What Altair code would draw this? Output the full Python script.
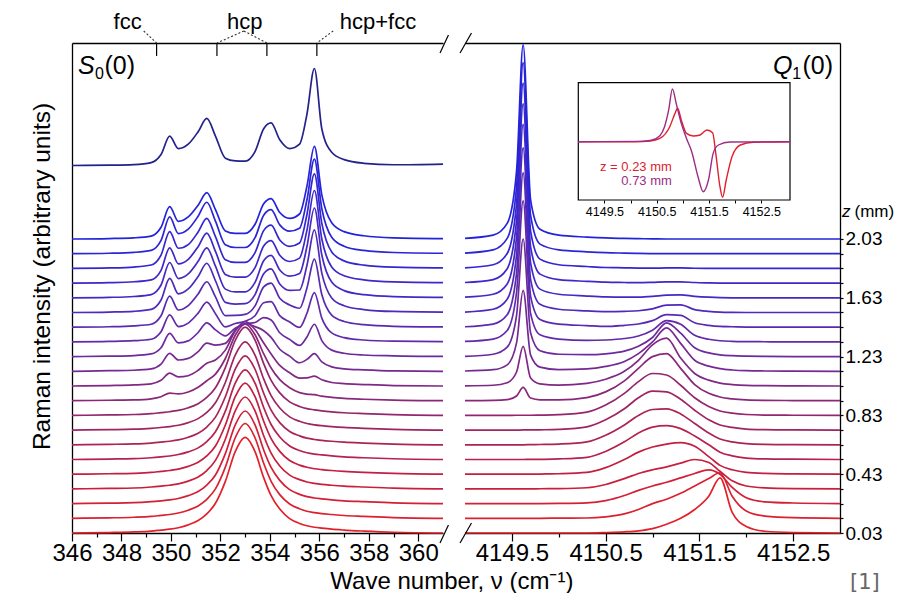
import json
import altair as alt
import pandas as pd

FONT = "Liberation Sans"

# ---------------- data ----------------
Z_LABELS = ["0.03", "0.13", "0.23", "0.33", "0.43", "0.53", "0.63", "0.73", "0.83", "0.93",
            "1.03", "1.13", "1.23", "1.33", "1.43", "1.53", "1.63", "1.73", "1.83", "1.93", "2.03"]
Z_VALUES = [float(s) for s in Z_LABELS]

# S0(0) panel: wave numbers and intensities (arbitrary units, one unit = spacing between traces)
LEFT_X = [346, 347.5, 348.5, 349.2, 349.6, 349.95, 350.3, 350.7, 351.1, 351.45, 351.8, 352.2, 352.6,
          353.0, 353.4, 353.75, 354.05, 354.4, 354.8, 355.2, 355.5, 355.8, 356.1, 356.5, 357.0,
          357.8, 359.0, 361.0]
LEFT_CURVES = [
    [0, 0.03, 0.07, 0.13, 0.2, 0.26, 0.36, 0.55, 0.85, 1.3, 2.02, 3.51, 5.53, 6.5, 5.53, 3.77, 2.54, 1.63, 0.98, 0.65, 0.49, 0.39, 0.33, 0.26, 0.2, 0.13, 0.05, 0],
    [0, 0.03, 0.07, 0.13, 0.2, 0.26, 0.36, 0.55, 0.84, 1.29, 2.0, 3.48, 5.48, 6.45, 5.48, 3.74, 2.52, 1.61, 0.97, 0.65, 0.48, 0.39, 0.32, 0.26, 0.19, 0.13, 0.05, 0],
    [0, 0.03, 0.06, 0.13, 0.19, 0.25, 0.35, 0.54, 0.82, 1.26, 1.95, 3.4, 5.36, 6.3, 5.36, 3.65, 2.46, 1.58, 0.95, 0.63, 0.47, 0.38, 0.32, 0.25, 0.19, 0.13, 0.05, 0],
    [0, 0.03, 0.06, 0.13, 0.19, 0.25, 0.34, 0.53, 0.81, 1.25, 1.94, 3.38, 5.31, 6.25, 5.31, 3.62, 2.44, 1.56, 0.94, 0.63, 0.47, 0.38, 0.31, 0.25, 0.19, 0.13, 0.05, 0],
    [0, 0.03, 0.06, 0.12, 0.19, 0.25, 0.34, 0.53, 0.81, 1.24, 1.92, 3.35, 5.27, 6.2, 5.27, 3.6, 2.42, 1.55, 0.93, 0.62, 0.47, 0.37, 0.31, 0.25, 0.19, 0.12, 0.05, 0],
    [0, 0.03, 0.06, 0.12, 0.18, 0.24, 0.34, 0.52, 0.79, 1.22, 1.89, 3.29, 5.19, 6.1, 5.19, 3.54, 2.38, 1.53, 0.92, 0.61, 0.46, 0.37, 0.31, 0.24, 0.18, 0.12, 0.05, 0],
    [0, 0.03, 0.06, 0.12, 0.18, 0.24, 0.33, 0.51, 0.79, 1.21, 1.88, 3.27, 5.14, 6.05, 5.14, 3.51, 2.36, 1.51, 0.91, 0.61, 0.45, 0.36, 0.3, 0.24, 0.18, 0.12, 0.05, 0],
    [0, 0.03, 0.06, 0.12, 0.18, 0.24, 0.33, 0.51, 0.78, 1.2, 1.86, 3.24, 5.1, 6.0, 5.1, 3.48, 2.34, 1.5, 0.9, 0.6, 0.45, 0.36, 0.3, 0.24, 0.18, 0.12, 0.05, 0],
    [0, 0.03, 0.06, 0.12, 0.19, 0.25, 0.34, 0.52, 0.8, 1.22, 1.88, 3.25, 5.1, 6.0, 5.12, 3.52, 2.38, 1.53, 0.92, 0.61, 0.46, 0.38, 0.31, 0.24, 0.18, 0.12, 0.05, 0],
    [0, 0.03, 0.05, 0.13, 0.27, 0.52, 0.46, 0.59, 0.91, 1.36, 1.81, 2.87, 4.45, 5.23, 4.49, 3.19, 2.22, 1.43, 0.88, 0.55, 0.45, 0.41, 0.31, 0.23, 0.16, 0.1, 0.04, 0],
    [0, 0.03, 0.07, 0.15, 0.39, 0.87, 0.62, 0.7, 1.07, 1.55, 1.77, 2.44, 3.74, 4.38, 3.84, 2.92, 2.18, 1.4, 0.9, 0.54, 0.55, 0.67, 0.42, 0.24, 0.16, 0.1, 0.03, 0],
    [0, 0.04, 0.07, 0.16, 0.49, 1.22, 0.77, 0.88, 1.34, 1.91, 1.78, 1.9, 2.79, 3.25, 3.04, 2.76, 2.31, 1.5, 1.03, 0.58, 0.81, 1.2, 0.64, 0.3, 0.17, 0.1, 0.03, 0],
    [0, 0.03, 0.07, 0.18, 0.6, 1.58, 0.93, 1.07, 1.64, 2.29, 1.82, 1.41, 1.93, 2.23, 2.32, 2.65, 2.49, 1.62, 1.17, 0.76, 1.34, 2.2, 1.09, 0.44, 0.23, 0.11, 0.05, 0.01],
    [0, 0.03, 0.08, 0.18, 0.69, 1.84, 1.04, 1.28, 1.96, 2.71, 1.92, 1.02, 1.25, 1.41, 1.78, 2.66, 2.74, 1.79, 1.35, 0.99, 1.95, 3.35, 1.62, 0.61, 0.29, 0.13, 0.05, 0.02],
    [0, 0.03, 0.09, 0.2, 0.78, 2.11, 1.17, 1.47, 2.26, 3.09, 2.06, 0.79, 0.8, 0.87, 1.45, 2.74, 3.0, 1.97, 1.51, 1.29, 2.67, 4.63, 2.22, 0.82, 0.39, 0.17, 0.06, 0.02],
    [0, 0.03, 0.08, 0.21, 0.85, 2.32, 1.27, 1.6, 2.45, 3.35, 2.16, 0.69, 0.57, 0.6, 1.22, 2.64, 2.97, 1.94, 1.5, 1.53, 3.21, 5.62, 2.68, 0.99, 0.46, 0.2, 0.07, 0.03],
    [0, 0.03, 0.09, 0.22, 0.87, 2.4, 1.31, 1.62, 2.48, 3.4, 2.16, 0.59, 0.4, 0.4, 1.05, 2.52, 2.89, 1.89, 1.47, 1.65, 3.49, 6.11, 2.91, 1.07, 0.49, 0.21, 0.08, 0.03],
    [0, 0.03, 0.09, 0.22, 0.87, 2.4, 1.31, 1.62, 2.48, 3.4, 2.16, 0.59, 0.4, 0.4, 1.05, 2.52, 2.89, 1.89, 1.47, 1.7, 3.6, 6.3, 3.0, 1.1, 0.5, 0.22, 0.08, 0.03],
    [0, 0.03, 0.09, 0.23, 0.91, 2.5, 1.37, 1.62, 2.48, 3.4, 2.16, 0.59, 0.41, 0.41, 1.07, 2.57, 2.94, 1.93, 1.5, 1.73, 3.67, 6.43, 3.06, 1.12, 0.51, 0.22, 0.08, 0.03],
    [0, 0.03, 0.09, 0.23, 0.91, 2.5, 1.37, 1.67, 2.55, 3.5, 2.22, 0.61, 0.42, 0.42, 1.09, 2.62, 3.0, 1.96, 1.53, 1.73, 3.67, 6.43, 3.06, 1.12, 0.51, 0.22, 0.08, 0.03],
    [0, 0.03, 0.08, 0.2, 0.8, 2.2, 1.2, 1.5, 2.3, 3.15, 2.0, 0.55, 0.38, 0.38, 1.0, 2.4, 2.75, 1.8, 1.4, 1.7, 3.6, 6.3, 3.0, 1.1, 0.5, 0.22, 0.08, 0.03],
]
LEFT_TOP_CURVE = [0, 0.02, 0.06, 0.2, 0.75, 2.0, 1.15, 1.45, 2.3, 3.2, 2.0, 0.5, 0.32, 0.3, 0.95, 2.5, 2.9, 1.75, 1.15, 1.45, 3.5, 6.6, 2.5, 0.9, 0.4, 0.15, 0.05, 0.1]
LEFT_TOP_LEVEL = 25

# Q1(0) panel
RIGHT_X = [4149.0, 4149.3, 4149.45, 4149.55, 4149.62, 4149.7, 4149.8, 4150.0, 4150.3, 4150.5, 4150.7,
           4150.85, 4151.0, 4151.15, 4151.3, 4151.45, 4151.6, 4151.72, 4151.85, 4152.0, 4152.2, 4152.5, 4153.0]
RIGHT_CURVES = [
    [0, 0, 0, 0, 0, 0, 0, 0, 0, 0.03, 0.08, 0.15, 0.3, 0.6, 1.0, 1.6, 2.5, 3.75, 1.4, 0.45, 0.12, 0.03, 0],
    [0, 0, 0, 0, 0, 0, 0, 0.01, 0.02, 0.1, 0.3, 0.6, 1.0, 1.3, 1.7, 2.2, 2.7, 3.1, 1.5, 0.5, 0.15, 0.04, 0],
    [0, 0, 0, 0, 0, 0, 0, 0.01, 0.05, 0.2, 0.55, 0.9, 1.2, 1.45, 1.75, 2.05, 2.3, 2.0, 1.1, 0.4, 0.12, 0.04, 0],
    [0, 0, 0, 0, 0, 0, 0.01, 0.02, 0.08, 0.3, 0.7, 1.05, 1.3, 1.5, 1.75, 2.0, 1.8, 1.2, 0.55, 0.2, 0.07, 0.02, 0],
    [0, 0, 0, 0, 0, 0, 0.01, 0.03, 0.12, 0.45, 1.0, 1.5, 1.85, 2.05, 2.15, 1.9, 1.2, 0.6, 0.3, 0.12, 0.05, 0.02, 0],
    [0, 0, 0, 0, 0, 0.01, 0.01, 0.04, 0.15, 0.55, 1.2, 1.8, 2.2, 2.3, 2.1, 1.6, 1.0, 0.5, 0.25, 0.1, 0.04, 0.02, 0],
    [0, 0, 0, 0, 0, 0.01, 0.02, 0.05, 0.2, 0.65, 1.35, 2.0, 2.4, 2.45, 2.1, 1.45, 0.8, 0.4, 0.2, 0.08, 0.03, 0.01, 0],
    [0, 0, 0, 0, 0.01, 0.01, 0.02, 0.05, 0.22, 0.7, 1.45, 2.2, 2.65, 2.6, 2.1, 1.35, 0.7, 0.35, 0.18, 0.07, 0.03, 0.01, 0],
    [0, 0, 0, 0.01, 0.01, 0.01, 0.02, 0.05, 0.22, 0.7, 1.5, 2.3, 2.85, 2.75, 2.05, 1.2, 0.6, 0.3, 0.15, 0.06, 0.02, 0.01, 0],
    [0, 0.02, 0.07, 0.32, 0.9, 0.18, 0.06, 0.05, 0.21, 0.6, 1.35, 2.2, 3.0, 3.2, 2.2, 1.1, 0.5, 0.25, 0.12, 0.05, 0.02, 0.01, 0],
    [0.01, 0.05, 0.22, 0.95, 2.7, 0.54, 0.14, 0.06, 0.18, 0.46, 1.0, 1.75, 2.8, 3.25, 1.9, 0.85, 0.4, 0.2, 0.1, 0.04, 0.02, 0.01, 0],
    [0.02, 0.11, 0.44, 1.93, 5.5, 1.1, 0.28, 0.11, 0.16, 0.33, 0.67, 1.2, 2.0, 2.95, 1.9, 0.75, 0.35, 0.18, 0.09, 0.04, 0.02, 0.01, 0],
    [0.02, 0.16, 0.64, 2.8, 8.0, 1.6, 0.4, 0.16, 0.13, 0.19, 0.37, 0.7, 1.3, 2.3, 1.6, 0.6, 0.25, 0.12, 0.06, 0.03, 0.01, 0, 0],
    [0.03, 0.19, 0.77, 3.36, 9.6, 1.92, 0.48, 0.19, 0.1, 0.13, 0.23, 0.4, 0.8, 1.45, 1.2, 0.45, 0.18, 0.08, 0.04, 0.02, 0.01, 0, 0],
    [0.03, 0.21, 0.84, 3.68, 10.5, 2.1, 0.53, 0.21, 0.11, 0.05, 0.13, 0.22, 0.45, 0.85, 0.8, 0.3, 0.12, 0.05, 0.03, 0.01, 0, 0, 0],
    [0.03, 0.22, 0.9, 3.92, 11.2, 2.24, 0.56, 0.22, 0.11, 0.06, 0.08, 0.12, 0.25, 0.5, 0.52, 0.2, 0.08, 0.03, 0.01, 0, 0, 0, 0],
    [0.04, 0.24, 0.94, 4.13, 11.8, 2.36, 0.59, 0.24, 0.12, 0.06, 0.04, 0.05, 0.1, 0.18, 0.2, 0.1, 0.04, 0.01, 0, 0, 0, 0, 0],
    [0.04, 0.24, 0.98, 4.27, 12.2, 2.44, 0.61, 0.24, 0.12, 0.06, 0.04, 0.03, 0.05, 0.08, 0.08, 0.04, 0.01, 0, 0, 0, 0, 0, 0],
    [0.04, 0.25, 1.01, 4.41, 12.6, 2.52, 0.63, 0.25, 0.13, 0.06, 0.04, 0.02, 0.02, 0.03, 0.03, 0.01, 0, 0, 0, 0, 0, 0, 0],
    [0.04, 0.26, 1.04, 4.55, 13.0, 2.6, 0.65, 0.26, 0.13, 0.07, 0.04, 0.02, 0.01, 0.01, 0.01, 0, 0, 0, 0, 0, 0, 0, 0],
    [0.04, 0.26, 1.06, 4.62, 13.2, 2.64, 0.66, 0.26, 0.13, 0.07, 0.04, 0.02, 0.01, 0, 0, 0, 0, 0, 0, 0, 0, 0, 0],
]

# inset: difference spectra
INSET_023_X = [4149.0, 4150.1, 4150.37, 4150.56, 4150.75, 4150.85, 4150.9, 4150.97, 4151.07, 4151.2, 4151.33,
               4151.46, 4151.57, 4151.63, 4151.71, 4151.76, 4151.83, 4151.94, 4152.1, 4152.35, 4153.05]
INSET_023_Y = [0, 0, 0.07, 0.33, 1.5, 2.83, 3.34, 2.17, 0.83, 0.57, 0.67, 1.17, 0.9, -1.17, -4.5, -5.56,
               -3.83, -1.5, -0.33, -0.05, 0]
INSET_073_X = [4149.0, 4150.2, 4150.4, 4150.56, 4150.65, 4150.73, 4150.8, 4150.88, 4150.97, 4151.07, 4151.17,
               4151.29, 4151.39, 4151.49, 4151.58, 4151.68, 4151.9, 4153.05]
INSET_073_Y = [0, 0.03, 0.15, 0.6, 1.5, 3.2, 5.27, 3.67, 1.83, 0.33, -1.0, -3.5, -5.0, -3.83, -1.17, -0.33,
               -0.03, 0]

LEFT_MAJOR = [346, 348, 350, 352, 354, 356, 358, 360]
LEFT_MINOR = [347, 349, 351, 353, 355, 357, 359]
RIGHT_MAJOR = [4149.5, 4150.5, 4151.5, 4152.5]
RIGHT_MINOR = [4150.0, 4151.0, 4152.0]
TOP_TICKS = [349.42, 351.86, 353.88, 355.9]
TOP_LABELS = ["fcc", "hcp", "hcp+fcc"]

COLOR_Z = [0.03, 0.43, 0.83, 1.23, 1.63, 2.03]
COLOR_HEX = ["#e3202a", "#c21f42", "#93266c", "#6b2a9e", "#4629c4", "#2323dc"]
TOP_COLOR = "#22228a"
RED = "#e0202e"
PURPLE = "#9c2c86"

# ---------------- tables ----------------
rows = []
for i, (z, curve) in enumerate(zip(Z_VALUES, LEFT_CURVES)):
    for x, v in zip(LEFT_X, curve):
        rows.append({"x": x, "y": i + v, "z": z, "s": i})
df_left = pd.DataFrame(rows)
df_top = pd.DataFrame({"x": LEFT_X, "y": [LEFT_TOP_LEVEL + v for v in LEFT_TOP_CURVE]})
rows = []
for i, (z, curve) in enumerate(zip(Z_VALUES, RIGHT_CURVES)):
    for x, v in zip(RIGHT_X, curve):
        rows.append({"x": x, "y": i + v, "z": z, "s": i})
df_right = pd.DataFrame(rows)
df_in23 = pd.DataFrame({"x": INSET_023_X, "y": INSET_023_Y})
df_in73 = pd.DataFrame({"x": INSET_073_X, "y": INSET_073_Y})

# ---------------- scales ----------------
YTOP = 33.333
xl = alt.Scale(domain=[346, 361], range=[0, 371], nice=False, zero=False)
xr = alt.Scale(domain=[4149, 4153], range=[393, 768], nice=False, zero=False)
xi = alt.Scale(domain=[4149.0, 4153.05], range=[506.3, 718], nice=False, zero=False)
yy = alt.Scale(domain=[0, YTOP], nice=False, zero=False)
yi = alt.Scale(domain=[-5.83, 5.9], range=[157, 39.7], nice=False, zero=False)
cscale = alt.Scale(domain=COLOR_Z, range=COLOR_HEX, interpolate="rgb")


def X(scale, axis=None, field="x"):
    return alt.X(f"{field}:Q", scale=scale, axis=axis)


def Y(scale, axis=None, field="y"):
    return alt.Y(f"{field}:Q", scale=scale, axis=axis)


common = dict(domainColor="#000", domainWidth=1.3, tickColor="#000", tickWidth=1.2, labelColor="#000",
              labelFont=FONT, grid=False, labelFlush=False, labelOverlap=False, title=None)


def is_major(major):
    return f"indexof({json.dumps(major)}, datum.value) >= 0"


def bottom_axis(major, minor, fmt, size=24, big=8, small=4, pad=0, offset=0):
    return alt.Axis(orient="bottom", values=major + minor, format=fmt,
                    labelExpr=f"{is_major(major)} ? datum.label : ''",
                    tickSize={"condition": {"test": is_major(major), "value": big}, "value": small},
                    labelFontSize=size, labelPadding=pad, offset=offset, **common)


left_x_axis = bottom_axis(LEFT_MAJOR, LEFT_MINOR, "d")
right_x_axis = bottom_axis(RIGHT_MAJOR, RIGHT_MINOR, ".1f")
left_y_axis = alt.Axis(orient="left", ticks=False, labels=False, domain=True, domainColor="#000",
                       domainWidth=1.3, grid=False, title="Raman intensity (arbitrary units)",
                       titleFont=FONT, titleFontSize=24.5, titleFontWeight="normal", titleColor="#000",
                       titleX=-30, titleY=233, titleBaseline="middle", titleAngle=-90)
z_label_arr = [lab if i % 4 == 0 else "" for i, lab in enumerate(Z_LABELS)]
right_y_axis = alt.Axis(orient="right", values=list(range(len(Z_LABELS))),
                        labelExpr=f"{json.dumps(z_label_arr)}[datum.value]",
                        tickSize=3, labelPadding=2, labelFontSize=19, labelBaseline="middle", **common)
top_axis = alt.Axis(orient="top", ticks=False, labels=False, domain=True, domainColor="#000",
                    domainWidth=1.3, grid=False, title=None)

LW = 1.7
layers = []

# curves
layers.append(alt.Chart(df_left).mark_line(strokeWidth=LW, interpolate="monotone").encode(
    x=X(xl, left_x_axis), y=Y(yy, left_y_axis),
    color=alt.Color("z:Q", scale=cscale, legend=None), detail="s:N"))
layers.append(alt.Chart(df_top).mark_line(strokeWidth=LW, interpolate="monotone", color=TOP_COLOR).encode(
    x=X(xl), y=Y(yy)))
layers.append(alt.Chart(df_right).mark_line(strokeWidth=LW, interpolate="monotone").encode(
    x=X(xr, right_x_axis), y=Y(yy, right_y_axis),
    color=alt.Color("z:Q", scale=cscale, legend=None), detail="s:N"))

# top ticks (with left top frame line)
df_tt = pd.DataFrame({"x": TOP_TICKS, "y": [YTOP] * 4, "y2": [YTOP - 0.88] * 4})
layers.append(alt.Chart(df_tt).mark_rule(color="#000", strokeWidth=1.2).encode(
    x=X(xl, top_axis), y=Y(yy), y2=alt.Y2("y2:Q")))

# dotted leaders from labels to ticks
df_lead = pd.DataFrame({
    "x": [348.9, 352.95, 352.95, 356.56],
    "y": [34.15, 34.15, 34.15, 34.15],
    "x2": TOP_TICKS,
    "y2": [YTOP] * 4,
})
layers.append(alt.Chart(df_lead).mark_rule(color="#333", strokeWidth=1.1, strokeDash=[2, 2]).encode(
    x=X(xl), y=Y(yy), x2=alt.X2("x2:Q"), y2=alt.Y2("y2:Q")))

# top labels
df_tl = pd.DataFrame({"x": [348.25, 352.98, 358.37], "y": [34.29] * 3, "t": TOP_LABELS})
layers.append(alt.Chart(df_tl).mark_text(font=FONT, fontSize=22, color="#000", align="center",
                                         baseline="alphabetic").encode(x=X(xl), y=Y(yy), text="t:N"))


def label(df, xs, ys, axis=None, **kw):
    base = dict(font=FONT, color="#000", baseline="alphabetic", align="left")
    base.update(kw)
    return alt.Chart(df).mark_text(**base).encode(x=X(xs, axis), y=Y(ys), text="t:N")


# panel labels S0(0) and Q1(0)
layers.append(label(pd.DataFrame({"x": [346.24], "y": [31.22], "t": ["S"]}), xl, yy,
                    fontSize=25, fontStyle="italic"))
layers.append(label(pd.DataFrame({"x": [346.93], "y": [30.88], "t": ["0"]}), xl, yy, fontSize=16))
layers.append(label(pd.DataFrame({"x": [347.31], "y": [31.22], "t": ["(0)"]}), xl, yy, fontSize=25))
layers.append(label(pd.DataFrame({"x": [4152.285], "y": [31.22], "t": ["Q"]}), xr, yy, axis=top_axis,
                    fontSize=25, fontStyle="italic"))
layers.append(label(pd.DataFrame({"x": [4152.49], "y": [30.88], "t": ["1"]}), xr, yy, fontSize=16))
layers.append(label(pd.DataFrame({"x": [4152.6], "y": [31.22], "t": ["(0)"]}), xr, yy, fontSize=25))

# axis breaks
df_bl = pd.DataFrame({"x": [360.88, 360.88], "x2": [361.22, 361.22], "y": [-0.68, YTOP - 0.68],
                      "y2": [0.54, YTOP + 0.54]})
layers.append(alt.Chart(df_bl).mark_rule(color="#000", strokeWidth=1.2).encode(
    x=X(xl), y=Y(yy), x2=alt.X2("x2:Q"), y2=alt.Y2("y2:Q")))
df_br = pd.DataFrame({"x": [4148.947, 4148.947], "x2": [4149.069, 4149.069], "y": [-0.68, YTOP - 0.68],
                      "y2": [0.68, YTOP + 0.68]})
layers.append(alt.Chart(df_br).mark_rule(color="#000", strokeWidth=1.2).encode(
    x=X(xr), y=Y(yy), x2=alt.X2("x2:Q"), y2=alt.Y2("y2:Q")))

# z (mm) axis caption
layers.append(label(pd.DataFrame({"x": [4153.02], "y": [21.5], "t": ["z"]}), xr, yy,
                    fontSize=17, fontStyle="italic"))
layers.append(label(pd.DataFrame({"x": [4153.155], "y": [21.5], "t": ["(mm)"]}), xr, yy, fontSize=17))

# inset
df_box = pd.DataFrame({"x": [4149.0], "x2": [4153.05], "y": [-5.83], "y2": [5.9]})
layers.append(alt.Chart(df_box).mark_rect(fill="white", stroke="#000", strokeWidth=1.2).encode(
    x=X(xi), y=Y(yi), x2=alt.X2("x2:Q"), y2=alt.Y2("y2:Q")))
inset_axis = alt.Axis(orient="bottom", values=RIGHT_MAJOR + RIGHT_MINOR, format=".1f",
                      labelExpr=f"{is_major(RIGHT_MAJOR)} ? datum.label : ''",
                      tickSize=3, labelFontSize=12.5, labelPadding=2, offset=-333, domain=False,
                      tickColor="#000", tickWidth=1, labelColor="#000", labelFont=FONT, grid=False,
                      labelFlush=False, labelOverlap=False, title=None)
layers.append(alt.Chart(df_in23).mark_line(strokeWidth=1.4, interpolate="monotone", color=RED).encode(
    x=X(xi, inset_axis), y=Y(yi)))
layers.append(alt.Chart(df_in73).mark_line(strokeWidth=1.4, interpolate="monotone", color=PURPLE).encode(
    x=X(xi), y=Y(yi)))
layers.append(label(pd.DataFrame({"x": [4150.79], "y": [-2.93], "t": ["z = 0.23 mm"]}), xi, yi,
                    fontSize=13, color=RED, align="right"))
layers.append(label(pd.DataFrame({"x": [4150.79], "y": [-4.33], "t": ["0.73 mm"]}), xi, yi,
                    fontSize=13, color=PURPLE, align="right"))

# x-axis title and reference mark
layers.append(label(pd.DataFrame({"x": [361.36], "y": [-3.81], "t": ["Wave number, ν (cm⁻¹)"]}), xl, yy,
                    fontSize=24, align="center"))
layers.append(label(pd.DataFrame({"x": [4153.107], "y": [-3.81], "t": ["[1]"]}), xr, yy,
                    fontSize=21, color="#666", font="DejaVu Sans"))

chart = alt.layer(*layers).resolve_scale(x="independent", y="independent").resolve_axis(
    x="independent", y="independent").properties(
    width=768, height=490, autosize=alt.AutoSizeParams(type="none"),
    padding={"left": 64, "top": 35, "right": 56, "bottom": 60},
).configure_view(stroke=None)

chart.save("out.html", embed_options={"renderer": "svg", "actions": False})
